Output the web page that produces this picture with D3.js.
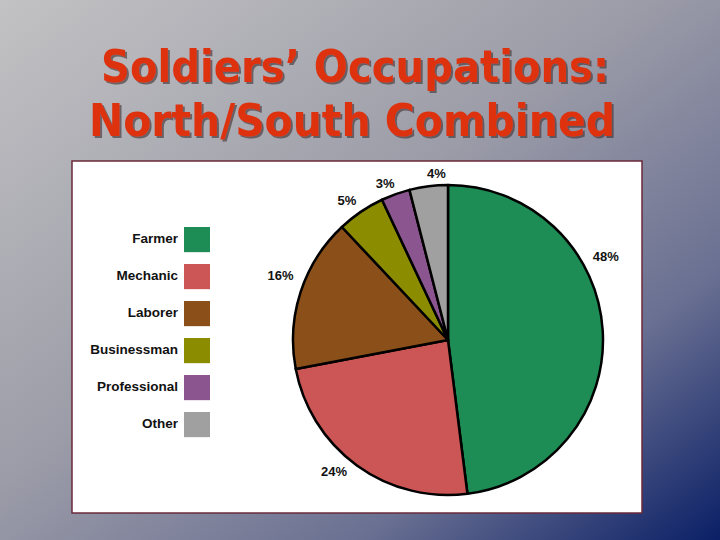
<!DOCTYPE html>
<html>
<head>
<meta charset="utf-8">
<script src="https://cdn.jsdelivr.net/npm/d3@7"></script>
<style>
  body { margin: 0; padding: 0; overflow: hidden; }
</style>
</head>
<body>
<div id="chart"></div>
<script>
const categories = ["Farmer", "Mechanic", "Laborer", "Businessman", "Professional", "Other"];
const shares = [48, 24, 16, 5, 3, 4];
const colors = ["#1d8c55", "#cc5555", "#8b5019", "#8c8c00", "#8b5590", "#a0a0a0"];
const titleLines = ["Soldiers\u2019 Occupations:", "North/South Combined"];

const W = 720, H = 540;
const data = categories.map((c, i) => ({ name: c, value: shares[i], color: colors[i] }));

const svg = d3.select("#chart")
  .append("svg")
  .attr("width", W)
  .attr("height", H);

// background gradient
const defs = svg.append("defs");
const grad = defs.append("linearGradient")
  .attr("id", "bg")
  .attr("x1", 0).attr("y1", 0).attr("x2", 1).attr("y2", 1);
grad.append("stop").attr("offset", "0%").attr("stop-color", "#c2c2c4");
grad.append("stop").attr("offset", "45%").attr("stop-color", "#9c9ca8");
grad.append("stop").attr("offset", "75%").attr("stop-color", "#6a7092");
grad.append("stop").attr("offset", "100%").attr("stop-color", "#0a1f66");

// title shadow
defs.append("filter")
  .attr("id", "shadow")
  .attr("x", "-5%").attr("y", "-20%").attr("width", "110%").attr("height", "140%")
  .append("feDropShadow")
  .attr("dx", 2).attr("dy", 2)
  .attr("stdDeviation", 0.6)
  .attr("flood-color", "#3a2a2a")
  .attr("flood-opacity", 0.6);

svg.append("rect")
  .attr("width", W).attr("height", H)
  .attr("fill", "url(#bg)");

// title
const titleY = [82, 136];
const titleX = [355, 352];
const titleW = [508, 526];
titleLines.forEach((t, i) => {
  svg.append("text")
    .attr("x", titleX[i])
    .attr("y", titleY[i])
    .attr("text-anchor", "middle")
    .attr("font-family", "'Comic Sans MS', 'DejaVu Sans', sans-serif")
    .attr("font-weight", "bold")
    .attr("font-size", 45)
    .attr("textLength", titleW[i])
    .attr("lengthAdjust", "spacingAndGlyphs")
    .attr("fill", "#dd3311")
    .attr("filter", "url(#shadow)")
    .text(t);
});

// white panel
svg.append("rect")
  .attr("x", 72).attr("y", 161)
  .attr("width", 570).attr("height", 352)
  .attr("fill", "#fff")
  .attr("stroke", "#6a2a3a")
  .attr("stroke-width", 1.5);

// pie
const cx = 448, cy = 340, r = 155;
const pie = d3.pie().value(d => d.value).sort(null);
const arc = d3.arc().innerRadius(0).outerRadius(r);
const arcs = pie(data);

const g = svg.append("g").attr("transform", `translate(${cx},${cy})`);

g.selectAll("path")
  .data(arcs)
  .enter()
  .append("path")
  .attr("d", arc)
  .attr("fill", d => d.data.color)
  .attr("stroke", "#000")
  .attr("stroke-width", 2.5)
  .attr("stroke-linejoin", "round");

// labels: nudged off the mid angle (degrees) the way the original places them
const angleShift = { Farmer: -24, Mechanic: 4.6, Laborer: 2.6, Businessman: -2, Professional: -2.2, Other: 3.2 };
const labelR = { Farmer: 178, Mechanic: 175, Laborer: 179, Businessman: 171, Professional: 168, Other: 166 };
const labelAngle = d => (d.startAngle + d.endAngle) / 2 + angleShift[d.data.name] * Math.PI / 180;

g.selectAll("text.lbl")
  .data(arcs)
  .enter()
  .append("text")
  .attr("class", "lbl")
  .attr("x", d => Math.sin(labelAngle(d)) * labelR[d.data.name])
  .attr("y", d => -Math.cos(labelAngle(d)) * labelR[d.data.name])
  .attr("text-anchor", "middle")
  .attr("dominant-baseline", "middle")
  .attr("font-family", "'Liberation Sans', Arial, sans-serif")
  .attr("font-weight", "bold")
  .attr("font-size", 13)
  .attr("fill", "#111")
  .text(d => d.data.value + "%");

// legend
const step = 37, pad = 0.32;
const ly = d3.scaleBand()
  .domain(categories)
  .range([227, 227 + step * (categories.length - pad)])
  .paddingInner(pad);

const legend = svg.append("g");
legend.selectAll("rect")
  .data(data)
  .enter()
  .append("rect")
  .attr("x", 184)
  .attr("y", d => ly(d.name))
  .attr("width", 26)
  .attr("height", ly.bandwidth())
  .attr("fill", d => d.color);

legend.selectAll("text")
  .data(data)
  .enter()
  .append("text")
  .attr("x", 178)
  .attr("y", d => ly(d.name) + ly.bandwidth() / 2)
  .attr("text-anchor", "end")
  .attr("dominant-baseline", "middle")
  .attr("font-family", "'Liberation Sans', Arial, sans-serif")
  .attr("font-weight", "bold")
  .attr("font-size", 13.5)
  .attr("fill", "#111")
  .text(d => d.name);
</script>
</body>
</html>
